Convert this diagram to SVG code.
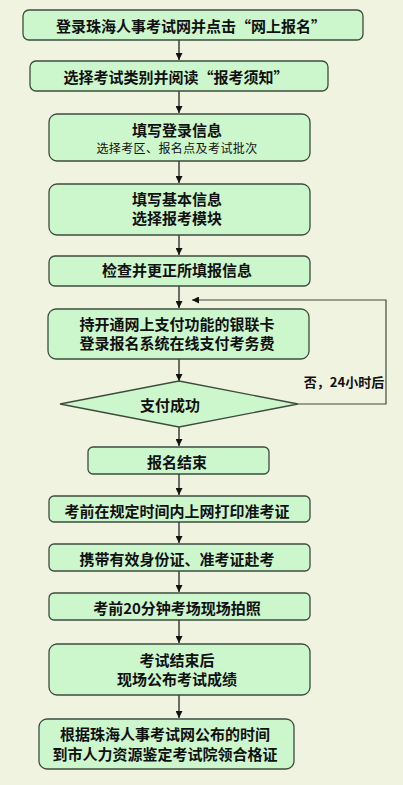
<svg xmlns="http://www.w3.org/2000/svg" width="403" height="785" viewBox="0 0 403 785">
<style>
.bg{fill:#EFF3E0}
.box{fill:#CCF7CC;stroke:#3E4C3E;stroke-width:1.3}
.t{font-family:"Noto Sans CJK SC","Noto Sans CJK TC",sans-serif;font-weight:bold;font-size:15px;fill:#111;text-anchor:middle;dominant-baseline:central}
.s{font-size:12px;font-weight:normal;letter-spacing:0.4px}
.c{fill:none;stroke:#111;stroke-width:1.2}
.c2{fill:none;stroke:#3E4C3E;stroke-width:1.2}
</style>
<defs>
<marker id="ah" viewBox="0 0 10 10" refX="10" refY="5" markerWidth="7" markerHeight="7" markerUnits="userSpaceOnUse" orient="auto">
<path d="M0,0 L10,5 L0,10 z" fill="#111"/>
</marker>
</defs>
<rect class="bg" x="0" y="0" width="403" height="785"/>
<g id="connectors">
<line class="c" x1="179" y1="40" x2="179" y2="60" marker-end="url(#ah)"/>
<line class="c" x1="179" y1="91" x2="179" y2="113" marker-end="url(#ah)"/>
<line class="c" x1="179" y1="161" x2="179" y2="183" marker-end="url(#ah)"/>
<line class="c" x1="179" y1="235" x2="179" y2="255" marker-end="url(#ah)"/>
<line class="c" x1="179" y1="286" x2="179" y2="308" marker-end="url(#ah)"/>
<polyline class="c2" points="298,404 386,404 386,300 192,300" marker-end="url(#ah)"/>
<line class="c" x1="179" y1="359" x2="179" y2="381" marker-end="url(#ah)"/>
<line class="c" x1="179" y1="427" x2="179" y2="446" marker-end="url(#ah)"/>
<line class="c" x1="179" y1="474" x2="179" y2="495" marker-end="url(#ah)"/>
<line class="c" x1="179" y1="522" x2="179" y2="543" marker-end="url(#ah)"/>
<line class="c" x1="179" y1="571" x2="179" y2="592" marker-end="url(#ah)"/>
<line class="c" x1="179" y1="620" x2="179" y2="643" marker-end="url(#ah)"/>
<line class="c" x1="179" y1="695" x2="179" y2="718" marker-end="url(#ah)"/>
<text class="t" x="344" y="381" style="font-size:13px">否，24小时后</text>
</g>
<g id="n1"><rect class="box" x="23" y="10" width="340" height="30" rx="6"/><text class="t" x="191" y="25">登录珠海人事考试网并点击“网上报名”</text></g>
<g id="n2"><rect class="box" x="30" y="61" width="298" height="30" rx="6"/><text class="t" x="176" y="76">选择考试类别并阅读“报考须知”</text></g>
<g id="n3"><rect class="box" x="49" y="114" width="261" height="47" rx="8"/><text class="t" x="177" y="129">填写登录信息</text><text class="t s" x="177" y="147">选择考区、报名点及考试批次</text></g>
<g id="n4"><rect class="box" x="49" y="184" width="261" height="51" rx="8"/><text class="t" x="177" y="198">填写基本信息</text><text class="t" x="177" y="217">选择报考模块</text></g>
<g id="n5"><rect class="box" x="49" y="256" width="261" height="30" rx="6"/><text class="t" x="177" y="269">检查并更正所填报信息</text></g>
<g id="n6"><rect class="box" x="48" y="309" width="261" height="50" rx="8"/><text class="t" x="177" y="323">持开通网上支付功能的银联卡</text><text class="t" x="177" y="342">登录报名系统在线支付考务费</text></g>
<g id="n7"><polygon class="box" points="179,381 298,404 179,427 60,404"/><text class="t" x="170" y="404">支付成功</text></g>
<g id="n8"><rect class="box" x="88" y="447" width="181" height="27" rx="5"/><text class="t" x="177" y="461">报名结束</text></g>
<g id="n9"><rect class="box" x="49" y="496" width="261" height="26" rx="5"/><text class="t" x="177" y="510">考前在规定时间内上网打印准考证</text></g>
<g id="n10"><rect class="box" x="49" y="544" width="261" height="27" rx="5"/><text class="t" x="177" y="558">携带有效身份证、准考证赴考</text></g>
<g id="n11"><rect class="box" x="49" y="593" width="261" height="27" rx="5"/><text class="t" x="177" y="607">考前20分钟考场现场拍照</text></g>
<g id="n12"><rect class="box" x="49" y="644" width="261" height="51" rx="8"/><text class="t" x="177" y="659">考试结束后</text><text class="t" x="177" y="678">现场公布考试成绩</text></g>
<g id="n13"><rect class="box" x="39" y="719" width="255" height="50" rx="8"/><text class="t" x="165" y="733">根据珠海人事考试网公布的时间</text><text class="t" x="165" y="753">到市人力资源鉴定考试院领合格证</text></g>
</svg>
